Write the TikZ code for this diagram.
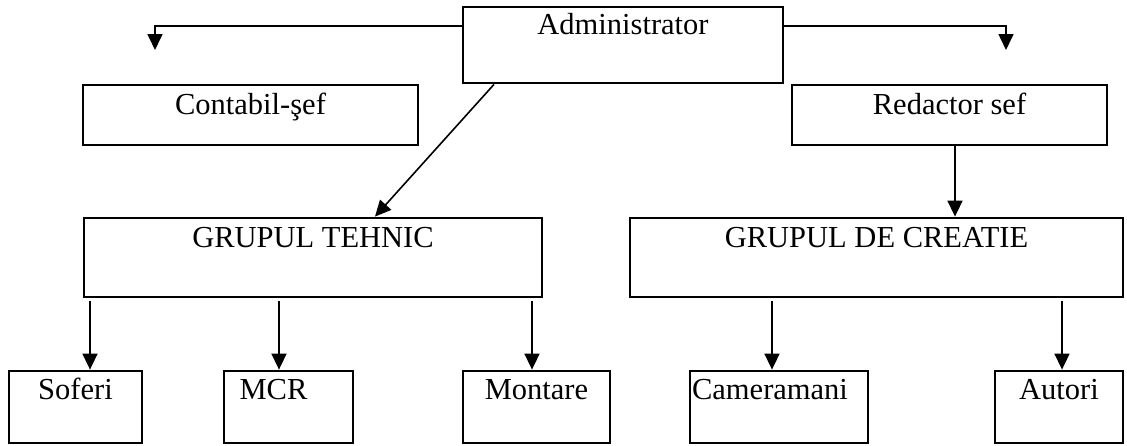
\documentclass[tikz,border=0pt]{standalone}
\usepackage{fontspec}
\setmainfont{Liberation Serif}
\usetikzlibrary{arrows.meta}

\tikzset{
    box/.style={draw, line width=2.8pt, inner sep=0pt, font=\fontsize{30.5}{36}\selectfont},
    headbox/.style={box, text height=27pt, text depth=49pt},
    midbox/.style={box, text height=29pt, text depth=31pt},
    grpbox/.style={box, text height=29pt, text depth=50pt},
    kidbox/.style={box, text height=28pt, text depth=44pt},
    conn/.style={line width=1.6pt, -{Triangle[length=16pt,width=15pt]}}
}

\begin{document}
\begin{tikzpicture}[x=1pt,y=-1pt]
            \useasboundingbox (0,0) rectangle (1127,445);
            \node[headbox, minimum width=320pt] (admin) at (623,45) {Administrator};
            \node[midbox, minimum width=335pt] (contabil) at (250.5,115) {Contabil-şef};
            \node[midbox, minimum width=315pt] (redactor) at (949.5,115) {Redactor sef};
            \node[grpbox, minimum width=458pt] (tehnic) at (313,257.5) {GRUPUL TEHNIC};
            \node[grpbox, minimum width=493pt] (creatie) at (876.5,257.5) {GRUPUL DE CREATIE};
            \node[kidbox, minimum width=133pt] (soferi) at (75.5,407) {Soferi};
            \node[kidbox, minimum width=129pt] (mcr) at (288.5,407) {\hspace*{-30pt}MCR};
            \node[kidbox, minimum width=147pt] (montare) at (536.5,407) {Montare};
            \node[kidbox, minimum width=178pt] (cameramani) at (779,407) {\hspace*{-18pt}Cameramani};
            \node[kidbox, minimum width=128pt] (autori) at (1059,407) {Autori};
            \coordinate (contabiltip) at (155,50);
            \coordinate (redactortip) at (1006,50);
            \draw[conn] ([yshift=19pt]admin.west) -| (contabiltip);
            \draw[conn] ([yshift=19pt]admin.east) -| (redactortip);
            \draw[conn] ([xshift=-129pt]admin.south) -- ([xshift=62pt]tehnic.north);
            \draw[conn] ([xshift=5.5pt]redactor.south) -- ([xshift=5.5pt]redactor.south |- creatie.north);
            \foreach \kid/\dx/\grp in {soferi/14.5/tehnic, mcr/-9.5/tehnic, montare/-4.5/tehnic, cameramani/-7/creatie, autori/3/creatie}
                \draw[conn] ([xshift=\dx pt, yshift=-3pt]\kid.north |- \grp.south) -- ([xshift=\dx pt]\kid.north);
        \end{tikzpicture}
\end{document}
